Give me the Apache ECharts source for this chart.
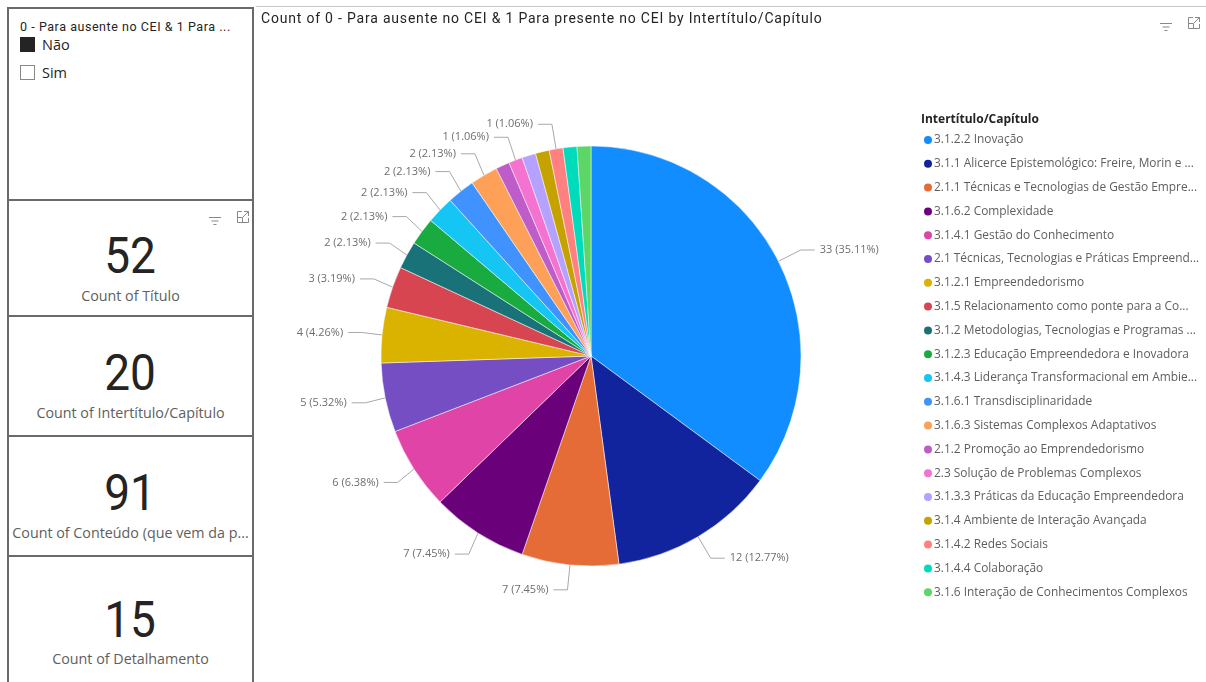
<!DOCTYPE html>
<html lang="pt">
<head>
<meta charset="utf-8">
<title>Intertítulo/Capítulo</title>
<script src="https://cdn.jsdelivr.net/npm/echarts@6/dist/echarts.min.js"></script>
<style>
  html, body { margin: 0; padding: 0; background: #fff; }
  body { width: 1206px; height: 682px; position: relative; overflow: hidden; font-family: 'Open Sans', 'Noto Sans', sans-serif; }
  .box { position: absolute; left: 7px; width: 247px; border: 2px solid #6a6a6a; box-sizing: border-box; background: #fff; }
  .slicer-title { position: absolute; left: 11px; top: 10px; font-family: Roboto, sans-serif; font-size: 12.5px; letter-spacing: 0.55px; color: #252423; white-space: nowrap; }
  .opt { position: absolute; left: 11px; font-size: 14.5px; color: #252423; display: flex; align-items: center; }
  .chk { width: 15px; height: 15px; box-sizing: border-box; margin-right: 7px; }
  .num { position: absolute; left: 0; width: 100%; text-align: center; font-family: Roboto, sans-serif; font-size: 50px; color: #252423; line-height: 1; }
  .num span { display: inline-block; transform: scaleX(0.92); }
  .cap { position: absolute; left: 0; width: 100%; text-align: center; font-size: 14.3px; color: #605E5C; white-space: nowrap; }
  .icon { position: absolute; }
  #chart { position: absolute; left: 256px; top: 7px; width: 950px; height: 675px; }
  #topline { position: absolute; left: 256px; top: 6px; width: 950px; height: 1px; background: #c8c6c4; }
  #chart-title { position: absolute; left: 261px; top: 10px; font-family: Roboto, sans-serif; font-size: 14px; letter-spacing: 0.8px; color: #252423; white-space: nowrap; z-index: 2; }
</style>
</head>
<body>

<div class="box" style="top:7px; height:194px;">
  <div class="slicer-title">0 - Para ausente no CEI &amp; 1 Para ...</div>
  <div class="opt" style="top:26px;"><div class="chk" style="background:#252423;"></div>Não</div>
  <div class="opt" style="top:54px;"><div class="chk" style="border:1px solid #8a8886;"></div>Sim</div>
</div>

<div id="cards"></div>
<div id="topline"></div>
<div id="chart"></div>
<div id="chart-title"></div>

<script>
// Slice categories, in the order they are drawn (clockwise from 12 o'clock)
const categories = [
  '3.1.2.2 Inovação',
  '3.1.1 Alicerce Epistemológico: Freire, Morin e ...',
  '2.1.1 Técnicas e Tecnologias de Gestão Empre...',
  '3.1.6.2 Complexidade',
  '3.1.4.1 Gestão do Conhecimento',
  '2.1 Técnicas, Tecnologias e Práticas Empreend...',
  '3.1.2.1 Empreendedorismo',
  '3.1.5 Relacionamento como ponte para a Co...',
  '3.1.2 Metodologias, Tecnologias e Programas ...',
  '3.1.2.3 Educação Empreendedora e Inovadora',
  '3.1.4.3 Liderança Transformacional em Ambie...',
  '3.1.6.1 Transdisciplinaridade',
  '3.1.6.3 Sistemas Complexos Adaptativos',
  '2.1.2 Promoção ao Emprendedorismo',
  '2.3 Solução de Problemas Complexos',
  '3.1.3.3 Práticas da Educação Empreendedora',
  '3.1.4 Ambiente de Interação Avançada',
  '3.1.4.2 Redes Sociais',
  '3.1.4.4 Colaboração',
  '3.1.6 Interação de Conhecimentos Complexos'
];

// Count of "0 - Para ausente no CEI & 1 Para presente no CEI" per category
const counts = [33, 12, 7, 7, 6, 5, 4, 3, 2, 2, 2, 2, 2, 1, 1, 1, 1, 1, 1, 1];

// Slices whose data label is drawn (crowded small slices stay unlabelled)
const labelVisible = [1, 1, 1, 1, 1, 1, 1, 1, 1, 1, 1, 1, 1, 0, 1, 0, 0, 1, 0, 0];

// Slice colours
const palette = [
  '#118DFF', '#12239E', '#E66C37', '#6B007B', '#E044A7', '#744EC2', '#D9B300',
  '#D64550', '#197278', '#1AAB40', '#15C6F4', '#4092FF', '#FFA058', '#BE5DC9',
  '#F472D0', '#B5A1FF', '#C4A200', '#FF8080', '#00DBBC', '#5BD667'
];

// Card visuals
const cardValues = ['52', '20', '91', '15'];
const cardLabels = ['Count of Título', 'Count of Intertítulo/Capítulo', 'Count of Conteúdo (que vem da p...', 'Count of Detalhamento'];

const chartTitle = 'Count of 0 - Para ausente no CEI & 1 Para presente no CEI by Intertítulo/Capítulo';
const legendTitle = 'Intertítulo/Capítulo';

document.getElementById('chart-title').textContent = chartTitle;

// ---- cards ----
const filterSvg = '<svg width="14" height="10" viewBox="0 0 14 10"><g stroke="#8a8886" stroke-width="1"><line x1="1" y1="1.5" x2="13" y2="1.5"/><line x1="3.5" y1="5" x2="10.5" y2="5"/><line x1="5.5" y1="8.5" x2="8.5" y2="8.5"/></g></svg>';
const focusSvg = '<svg width="14" height="14" viewBox="0 0 14 14"><g fill="none" stroke="#8a8886" stroke-width="1"><path d="M6 1.5H1.5V12.5H12.5V8"/><path d="M8 1.5H12.5V6"/><path d="M12.5 1.5L7 7"/><path d="M1.5 7.5H6.5V12.5"/></g></svg>';

const cardTops = [199, 315, 435, 555];
const cardHeights = [118, 122, 122, 130];
const numTops = [30, 31, 31, 38];
const capTops = [85, 86, 86, 92];
const cardsEl = document.getElementById('cards');
cardValues.forEach((v, i) => {
  const d = document.createElement('div');
  d.className = 'box';
  d.style.top = cardTops[i] + 'px';
  d.style.height = cardHeights[i] + 'px';
  d.innerHTML = '<div class="num" style="top:' + numTops[i] + 'px"><span>' + v + '</span></div>' +
                '<div class="cap" style="top:' + capTops[i] + 'px">' + cardLabels[i] + '</div>';
  if (i === 0) {
    d.innerHTML += '<div class="icon" style="left:199px;top:8px">' + filterSvg + '</div>' +
                   '<div class="icon" style="left:227px;top:6px">' + focusSvg + '</div>';
  }
  cardsEl.appendChild(d);
});
const iconsEl = document.createElement('div');
iconsEl.innerHTML = '<div class="icon" style="left:1159px;top:15px">' + filterSvg + '</div>' +
                    '<div class="icon" style="left:1187px;top:13px">' + focusSvg + '</div>';
document.body.appendChild(iconsEl);

// ---- pie chart ----
const total = counts.reduce((a, b) => a + b, 0);
const pieData = categories.map((name, i) => ({
  name: name,
  value: counts[i],
  itemStyle: { color: palette[i] },
  label: { show: !!labelVisible[i] },
  labelLine: { show: !!labelVisible[i] }
}));

const chart = echarts.init(document.getElementById('chart'), null, { renderer: 'canvas' });
chart.setOption({
  animation: false,
  graphic: [{
    type: 'text',
    left: 665,
    top: 107,
    style: { text: legendTitle, font: 'bold 12px "Open Sans"', fill: '#252423' }
  }],
  legend: {
    orient: 'vertical',
    left: 661,
    top: 121,
    icon: 'circle',
    itemWidth: 10,
    itemHeight: 10,
    itemGap: 9.8,
    selectedMode: false,
    data: categories,
    textStyle: {
      fontFamily: 'Open Sans',
      fontSize: 11.9,
      color: '#605E5C',
      lineHeight: 14,
      padding: [0, 0, 0, -4]
    }
  },
  series: [{
    type: 'pie',
    center: [335, 349],
    radius: 210,
    startAngle: 90,
    clockwise: true,
    avoidLabelOverlap: true,
    data: pieData,
    itemStyle: { borderColor: '#ffffff', borderWidth: 0.5 },
    label: {
      formatter: p => p.value + ' (' + (p.value / total * 100).toFixed(2) + '%)',
      fontFamily: 'Open Sans',
      fontSize: 11,
      color: '#6e6e6e'
    },
    labelLine: {
      length: 25,
      length2: 14,
      smooth: false,
      lineStyle: { color: '#a8a8a8', width: 1 }
    },
    emphasis: { disabled: true }
  }]
});
</script>
</body>
</html>
